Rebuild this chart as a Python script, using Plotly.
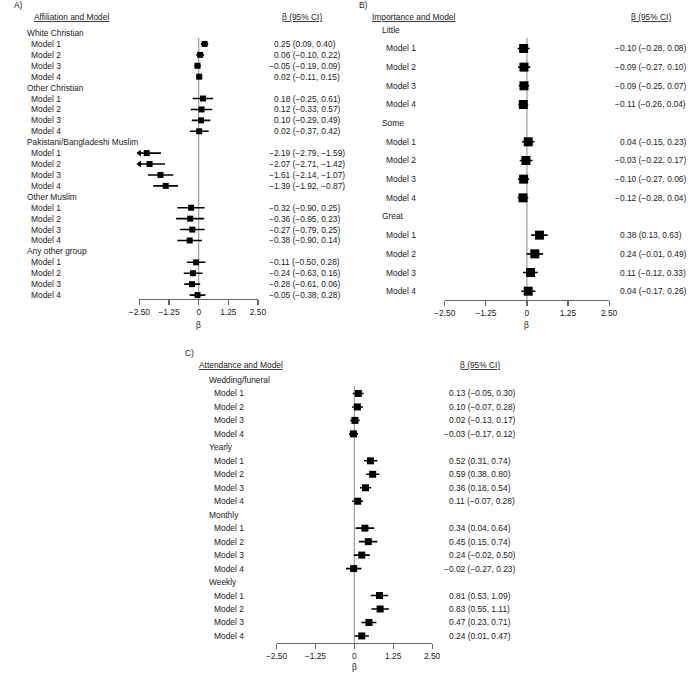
import plotly.graph_objects as go

W, H = 692, 673
FONT = "Liberation Sans, Arial, sans-serif"
FS = 8.4
TXT = "#1a1a1a"
AXC = "#666666"

# ---------------- data ----------------
a_groups = ["White Christian", "Other Christian", "Pakistani/Bangladeshi Muslim",
            "Other Muslim", "Any other group"]
a_beta = [[0.25, 0.06, -0.05, 0.02], [0.18, 0.12, 0.10, 0.02],
          [-2.19, -2.07, -1.61, -1.39], [-0.32, -0.36, -0.27, -0.38],
          [-0.11, -0.24, -0.28, -0.05]]
a_lo = [[0.09, -0.10, -0.19, -0.11], [-0.25, -0.33, -0.29, -0.37],
        [-2.79, -2.71, -2.14, -1.92], [-0.90, -0.95, -0.79, -0.90],
        [-0.50, -0.63, -0.61, -0.38]]
a_hi = [[0.40, 0.22, 0.09, 0.15], [0.61, 0.57, 0.49, 0.42],
        [-1.59, -1.42, -1.07, -0.87], [0.25, 0.23, 0.25, 0.14],
        [0.28, 0.16, 0.06, 0.28]]

b_groups = ["Little", "Some", "Great"]
b_beta = [[-0.10, -0.09, -0.09, -0.11], [0.04, -0.03, -0.10, -0.12],
          [0.38, 0.24, 0.11, 0.04]]
b_lo = [[-0.28, -0.27, -0.25, -0.26], [-0.15, -0.22, -0.27, -0.28],
        [0.13, -0.01, -0.12, -0.17]]
b_hi = [[0.08, 0.10, 0.07, 0.04], [0.23, 0.17, 0.06, 0.04],
        [0.63, 0.49, 0.33, 0.26]]

c_groups = ["Wedding/funeral", "Yearly", "Monthly", "Weekly"]
c_beta = [[0.13, 0.10, 0.02, -0.03], [0.52, 0.59, 0.36, 0.11],
          [0.34, 0.45, 0.24, -0.02], [0.81, 0.83, 0.47, 0.24]]
c_lo = [[-0.05, -0.07, -0.13, -0.17], [0.31, 0.38, 0.18, -0.07],
        [0.04, 0.15, -0.02, -0.27], [0.53, 0.55, 0.23, 0.01]]
c_hi = [[0.30, 0.28, 0.17, 0.12], [0.74, 0.80, 0.54, 0.28],
        [0.64, 0.74, 0.50, 0.23], [1.09, 1.11, 0.71, 0.47]]

models = ["Model 1", "Model 2", "Model 3", "Model 4"]
tick_vals = [-2.5, -1.25, 0, 1.25, 2.5]
tick_text = ["−2.50", "−1.25", "0", "1.25", "2.50"]
XMIN, XMAX = -2.5, 2.5

panels = [
    dict(key="", letter="A)", title="Affiliation and Model",
         groups=a_groups, beta=a_beta, lo=a_lo, hi=a_hi,
         x_left=132, x_right=254, y0=33, step=10.92, ztop=38, ybot=299,
         letter_xy=(1, 5), title_xy=(22, 17), ci_center=299, est_x=268,
         grp_x=14, mod_x=19, msize=6, beta_y=325),
    dict(key="2", letter="B)", title="Importance and Model",
         groups=b_groups, beta=b_beta, lo=b_lo, hi=b_hi,
         x_left=446, x_right=615, y0=29.8, step=18.67, ztop=38, ybot=300,
         letter_xy=(356, 5), title_xy=(369, 17), ci_center=658, est_x=624,
         grp_x=379, mod_x=384, msize=9, beta_y=325),
    dict(key="3", letter="C)", title="Attendance and Model",
         groups=c_groups, beta=c_beta, lo=c_lo, hi=c_hi,
         x_left=273, x_right=433, y0=380, step=13.47, ztop=386, ybot=643,
         letter_xy=(177, 353), title_xy=(191, 365), ci_center=482, est_x=448,
         grp_x=202, mod_x=207, msize=7, beta_y=667),
]


def fmt(v):
    return f"{v:.2f}".replace("-", "−")


fig = go.Figure()
annotations = []
shapes = []
layout_axes = {}
tf = dict(family=FONT, size=FS, color=TXT)

for p in panels:
    k = p["key"]
    xa = "x" + k
    ya = "y" + k
    lx, ly, mx, my, ax_, ay_ = [], [], [], [], [], []
    r = 0
    for gi, g in enumerate(p["groups"]):
        annotations.append(dict(text=g, xref="paper", yref=ya, x=p["grp_x"] / W, y=r,
                                xanchor="left", yanchor="middle", showarrow=False, font=tf))
        r += 1
        for mi, m in enumerate(models):
            b = p["beta"][gi][mi]
            lo = p["lo"][gi][mi]
            hi = p["hi"][gi][mi]
            annotations.append(dict(text=m, xref="paper", yref=ya, x=p["mod_x"] / W, y=r,
                                    xanchor="left", yanchor="middle", showarrow=False,
                                    font=tf))
            est = f"{fmt(b)} ({fmt(lo)}, {fmt(hi)})"
            shift = 4.9 if est.startswith("−") else 0.0
            annotations.append(dict(text=est, xref="paper", yref=ya,
                                    x=(p["est_x"] - shift) / W, y=r,
                                    xanchor="left", yanchor="middle", showarrow=False,
                                    font=tf))
            lx += [max(lo, XMIN), min(hi, XMAX), None]
            ly += [r, r, None]
            mx.append(b)
            my.append(r)
            if lo < XMIN:
                ax_.append(XMIN)
                ay_.append(r)
            r += 1
    r_top = -0.6
    r_bot = (p["ybot"] - p["y0"]) / p["step"]
    ytop_px = p["y0"] + r_top * p["step"]
    r_zero_top = (p["ztop"] - p["y0"]) / p["step"]

    # vertical reference line at beta = 0
    shapes.append(dict(type="line", xref=xa, yref=ya, x0=0, x1=0,
                       y0=r_zero_top, y1=r_bot, layer="below",
                       line=dict(color="#8a8a8a", width=1)))

    fig.add_trace(go.Scatter(x=lx, y=ly, mode="lines", xaxis=xa, yaxis=ya,
                             line=dict(color="black", width=1.6), hoverinfo="skip",
                             showlegend=False, cliponaxis=True))
    fig.add_trace(go.Scatter(x=mx, y=my, mode="markers", xaxis=xa, yaxis=ya,
                             marker=dict(symbol="square", size=p["msize"], color="black",
                                         line=dict(width=0)),
                             showlegend=False, cliponaxis=False))
    if ax_:
        fig.add_trace(go.Scatter(x=ax_, y=ay_, mode="markers", xaxis=xa, yaxis=ya,
                                 marker=dict(symbol="triangle-left", size=6, color="black",
                                             line=dict(width=0)),
                                 showlegend=False, cliponaxis=False))

    layout_axes["xaxis" + k] = dict(
        domain=[p["x_left"] / W, p["x_right"] / W], range=[XMIN, XMAX],
        anchor=ya, showgrid=False, zeroline=False,
        showline=True, linecolor=AXC, linewidth=1.2,
        ticks="outside", ticklen=5, tickcolor=AXC, tickwidth=1.2,
        tickvals=tick_vals, ticktext=tick_text, tickfont=tf,
        fixedrange=True)
    layout_axes["yaxis" + k] = dict(
        domain=[1 - p["ybot"] / H, 1 - ytop_px / H], range=[r_bot, r_top],
        anchor=xa, visible=False, showgrid=False, zeroline=False, fixedrange=True)

    # axis title beta
    annotations.append(dict(text="β", xref=xa, yref="paper", x=0,
                            y=1 - p["beta_y"] / H, xanchor="center", yanchor="middle",
                            showarrow=False, font=tf))
    # headers
    annotations.append(dict(text=p["letter"], xref="paper", yref="paper",
                            x=p["letter_xy"][0] / W, y=1 - p["letter_xy"][1] / H,
                            xanchor="left", yanchor="middle", showarrow=False, font=tf))
    annotations.append(dict(text="<u>" + p["title"] + "</u>", xref="paper", yref="paper",
                            x=p["title_xy"][0] / W, y=1 - p["title_xy"][1] / H,
                            xanchor="left", yanchor="middle", showarrow=False, font=tf))
    annotations.append(dict(text="<u>β (95% CI)</u>", xref="paper", yref="paper",
                            x=p["ci_center"] / W, y=1 - p["title_xy"][1] / H,
                            xanchor="center", yanchor="middle", showarrow=False, font=tf))

fig.update_layout(
    width=W, height=H, margin=dict(l=0, r=0, t=0, b=0),
    paper_bgcolor="white", plot_bgcolor="white",
    showlegend=False, annotations=annotations, shapes=shapes, **layout_axes)

fig.write_html("out.html",
               config={"displayModeBar": False, "staticPlot": True},
               post_script="document.body.style.margin='0';"
                           "document.body.style.overflow='hidden';")
